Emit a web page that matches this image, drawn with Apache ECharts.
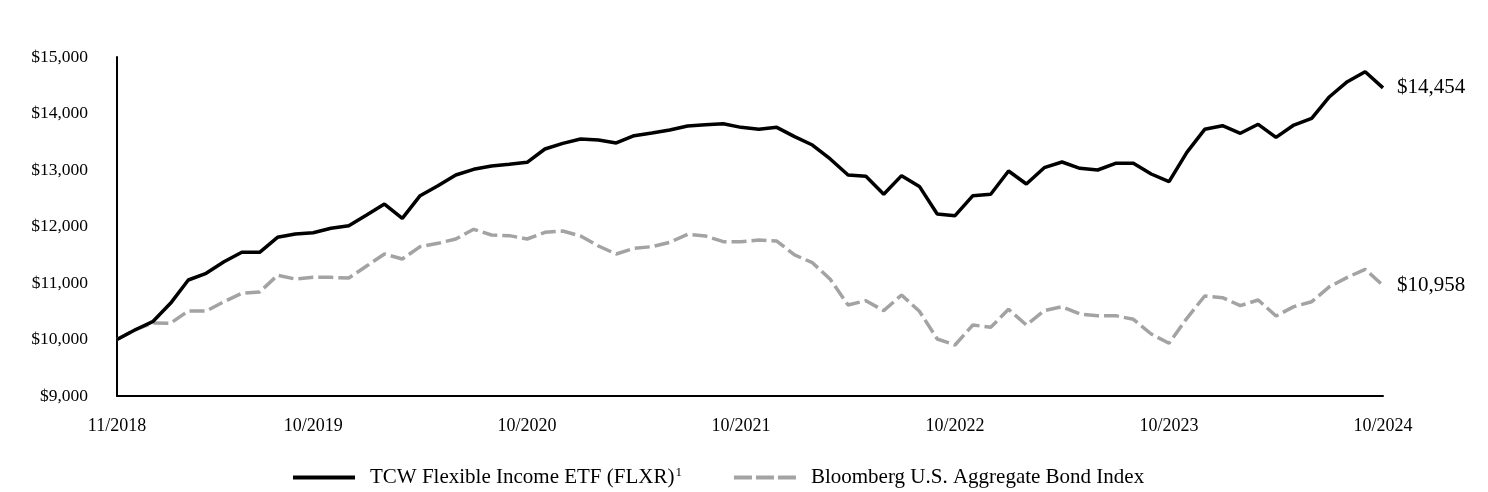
<!DOCTYPE html>
<html>
<head>
<meta charset="utf-8">
<script src="https://cdn.jsdelivr.net/npm/echarts@6/dist/echarts.min.js"></script>
<style>
html,body{margin:0;padding:0;background:#fff;}
#c{width:1488px;height:492px;}
</style>
</head>
<body>
<div id="c"></div>
<script>
// Month labels 11/2018 .. 10/2024
var startYear = 2018, startMonth = 11, monthCount = 72;
var months = [];
for (var i = 0; i < monthCount; i++) {
  var m = (startMonth - 1 + i) % 12 + 1;
  var y = startYear + Math.floor((startMonth - 1 + i) / 12);
  months.push(m + '/' + y);
}
var shownLabels = ['11/2018', '10/2019', '10/2020', '10/2021', '10/2022', '10/2023', '10/2024'];

var fundName = 'TCW Flexible Income ETF (FLXR)';
var indexName = 'Bloomberg U.S. Aggregate Bond Index';

var fundValues = [10000, 10168, 10315, 10640, 11053, 11172, 11377, 11543, 11543, 11809,
  11867, 11890, 11968, 12014, 12203, 12398, 12145, 12545, 12722, 12912,
  13012, 13071, 13100, 13136, 13372, 13472, 13549, 13531, 13478, 13607,
  13655, 13708, 13779, 13802, 13820, 13755, 13720, 13755, 13590, 13442,
  13195, 12912, 12888, 12570, 12900, 12710, 12221, 12191, 12545, 12570,
  12982, 12752, 13041, 13142, 13030, 13000, 13118, 13118, 12929, 12793,
  13313, 13720, 13784, 13650, 13809, 13578, 13796, 13914, 14297, 14563,
  14740, 14454];

var indexValues = [10000, 10170, 10290, 10287, 10504, 10504, 10669, 10817, 10841, 11136,
  11071, 11100, 11100, 11088, 11301, 11513, 11425, 11643, 11702, 11779,
  11950, 11850, 11838, 11779, 11897, 11920, 11832, 11655, 11513, 11614,
  11643, 11720, 11861, 11832, 11732, 11732, 11761, 11743, 11496, 11360,
  11065, 10611, 10687, 10510, 10788, 10500, 10009, 9903, 10257, 10215,
  10534, 10257, 10510, 10581, 10451, 10422, 10422, 10357, 10097, 9933,
  10375, 10770, 10740, 10599, 10699, 10416, 10581, 10669, 10935, 11100,
  11242, 10958];

var yMin = 9000, yMax = 15000, yStep = 1000;

function money(v) {
  return '$' + Math.round(v).toString().replace(/\B(?=(\d{3})+(?!\d))/g, ',');
}

var FONT = "'Liberation Serif', 'Times New Roman', serif";
var chart = echarts.init(document.getElementById('c'), null, {renderer: 'canvas'});
chart.setOption({
  animation: false,
  backgroundColor: '#ffffff',
  textStyle: {fontFamily: FONT, color: '#000'},
  grid: {left: 117, right: 105, top: 57, bottom: 96, containLabel: false},
  xAxis: {
    type: 'category',
    data: months,
    boundaryGap: false,
    axisLine: {show: true, lineStyle: {color: '#000', width: 2}},
    axisTick: {show: false},
    splitLine: {show: false},
    axisLabel: {
      interval: function (idx, val) { return shownLabels.indexOf(val) >= 0; },
      margin: 21,
      fontFamily: FONT,
      fontSize: 18,
      color: '#000'
    }
  },
  yAxis: {
    type: 'value',
    min: yMin, max: yMax, interval: yStep,
    axisLine: {show: true, lineStyle: {color: '#000', width: 2}},
    axisTick: {show: false},
    splitLine: {show: false},
    axisLabel: {
      formatter: money,
      margin: 29,
      fontFamily: FONT,
      fontSize: 17.5,
      color: '#000'
    }
  },
  legend: {
    left: 288,
    top: 461,
    itemWidth: 62,
    itemHeight: 4,
    itemGap: 52,
    textStyle: {
      fontFamily: FONT, fontSize: 21, color: '#000',
      rich: {
        t: {fontFamily: FONT, fontSize: 21, color: '#000', padding: [0, 0, 0, 10]},
        sup: {fontFamily: FONT, fontSize: 13, color: '#000', verticalAlign: 'top', padding: [0, 0, 10, 1]}
      }
    },
    formatter: function (name) {
      if (name === fundName) return '{t|' + name + '}{sup|1}';
      return '{t|' + name + '}';
    },
    data: [
      {name: fundName, icon: 'path://M0,0H62V4H0Z'},
      {name: indexName, icon: 'path://M0,0H18V4H0ZM22,0H40V4H22ZM44,0H62V4H44Z'}
    ]
  },
  series: [
    {
      name: fundName,
      type: 'line',
      data: fundValues,
      symbol: 'none',
      lineStyle: {color: '#000', width: 3.5},
      itemStyle: {color: '#000'},
      endLabel: {
        show: true,
        formatter: function (p) { return money(p.value); },
        distance: 14,
        fontFamily: FONT,
        fontSize: 21,
        color: '#000'
      },
      z: 3
    },
    {
      name: indexName,
      type: 'line',
      data: indexValues,
      symbol: 'none',
      lineStyle: {color: '#a3a3a3', width: 3.5, type: [15, 5]},
      itemStyle: {color: '#a3a3a3'},
      endLabel: {
        show: true,
        formatter: function (p) { return money(p.value); },
        distance: 14,
        fontFamily: FONT,
        fontSize: 21,
        color: '#000'
      },
      z: 2
    }
  ]
});
</script>
</body>
</html>
